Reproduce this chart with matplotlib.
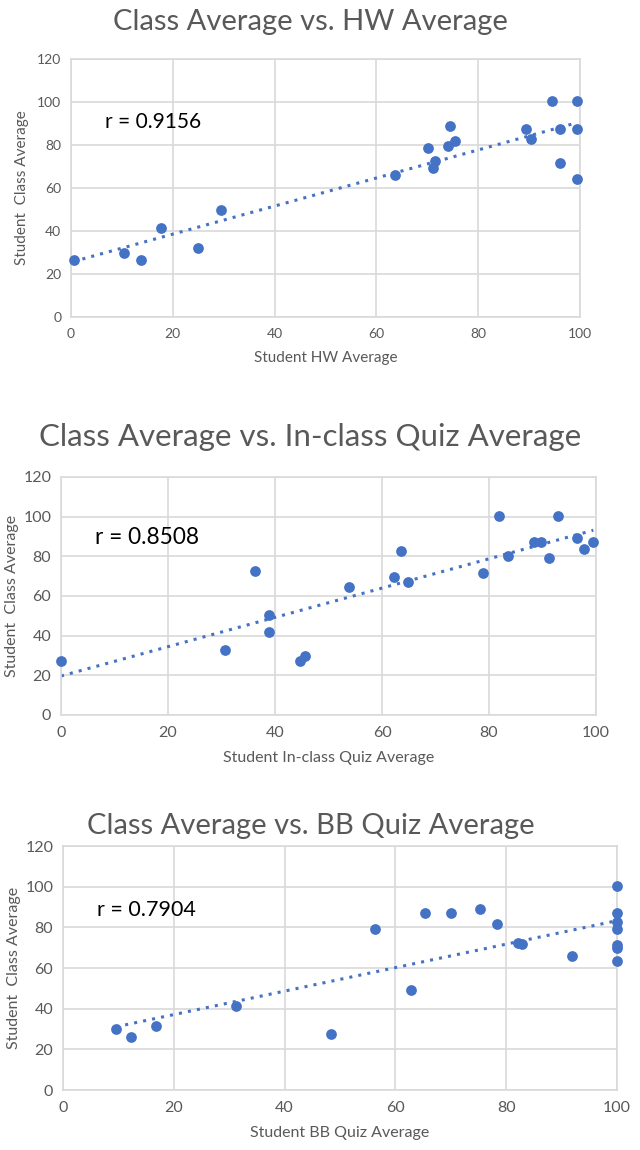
import numpy as np
import matplotlib.pyplot as plt

plt.rcParams['font.family'] = ['Lato', 'DejaVu Sans']

# panel 1: HW average
hw_x = [0.5, 10.5, 13.7, 17.7, 24.9, 29.5, 63.6, 70.2, 71.6, 71.2, 74.1,
        74.5, 75.4, 89.3, 90.3, 94.5, 99.4, 96.1, 99.4, 96.1, 99.4]
hw_y = [26.7, 29.8, 26.7, 41.3, 32.0, 49.8, 66.2, 78.7, 72.6, 69.4, 79.4,
        88.8, 81.9, 87.3, 82.6, 100.3, 100.3, 87.3, 87.3, 71.8, 64.0]

# panel 2: in-class quiz average
quiz_x = [0.0, 30.6, 36.3, 38.8, 38.8, 44.6, 45.6, 53.9, 62.2, 63.5, 64.9,
          78.8, 81.8, 83.5, 88.4, 89.8, 92.9, 91.2, 96.4, 97.8, 99.5]
quiz_y = [27.1, 32.8, 72.6, 50.3, 42.1, 27.1, 30.0, 64.3, 69.8, 82.8, 67.0,
          71.7, 100.2, 80.0, 87.4, 87.4, 100.2, 79.1, 89.0, 83.7, 87.2]

# panel 3: BB quiz average
bb_x = [9.6, 12.3, 16.7, 31.2, 48.3, 56.4, 62.8, 65.3, 70.1, 75.2, 78.4,
        82.2, 82.8, 91.8, 100, 100, 100, 100, 100, 100, 100]
bb_y = [29.8, 26.2, 31.5, 41.3, 27.4, 79.0, 49.2, 87.0, 87.0, 88.9, 81.7,
        72.5, 72.0, 66.1, 100.2, 87.0, 82.6, 79.0, 71.3, 69.7, 63.3]

titles = ['Class Average vs. HW Average',
          'Class Average vs. In-class Quiz Average',
          'Class Average vs. BB Quiz Average']
xlabels = ['Student HW Average', 'Student In-class Quiz Average',
           'Student BB Quiz Average']
r_labels = ['r = 0.9156', 'r = 0.8508', 'r = 0.7904']

W, H = 640, 1150
blue = '#4472C4'
gray = '#595959'
grid = '#D9D9D9'

# axes boxes in pixels: left, right, top, bottom
boxes = [(71, 580, 59, 317), (61, 596, 477, 715), (63, 617, 846, 1090)]
title_y = [22, 437, 826]
title_fs = [21, 22.5, 21]
r_pos = [(105, 122), (95, 538), (97, 910)]
r_fs = [15, 16.3, 15.5]
tick_fs = [10, 11.5, 11.5]
label_fs = [11, 11.5, 11.5]
ypad = [6, 3, 3]

fig = plt.figure(figsize=(W / 100, H / 100), dpi=100)

data = [(hw_x, hw_y), (quiz_x, quiz_y), (bb_x, bb_y)]
for i, (xs, ys) in enumerate(data):
    l, r, t, b = boxes[i]
    ax = fig.add_axes([l / W, 1 - b / H, (r - l) / W, (b - t) / H])
    ax.set_xlim(0, 100)
    ax.set_ylim(0, 120)
    ax.set_xticks(range(0, 101, 20))
    ax.set_yticks(range(0, 121, 20))
    ax.grid(True, color=grid, linewidth=1.2)
    ax.set_axisbelow(True)
    for s in ax.spines.values():
        s.set_color(grid)
        s.set_linewidth(1.2)
    ax.tick_params(length=0, labelsize=tick_fs[i], labelcolor=gray, pad=8)
    ax.tick_params(axis='y', pad=7)

    ax.scatter(xs, ys, s=45, color=blue, zorder=3, clip_on=False)
    m, c = np.polyfit(xs, ys, 1)
    fx = np.array([min(xs), max(xs)])
    ax.plot(fx, m * fx + c, linestyle=(0, (1, 2)), color=blue, linewidth=2.2,
            zorder=2)

    ax.set_xlabel(xlabels[i], fontsize=label_fs[i], color=gray, labelpad=8)
    ax.set_ylabel('Student  Class Average', fontsize=label_fs[i], color=gray,
                  labelpad=ypad[i])
    fig.text(0.485, 1 - title_y[i] / H, titles[i], ha='center', va='center',
             fontsize=title_fs[i], color=gray)
    fig.text(r_pos[i][0] / W, 1 - r_pos[i][1] / H, r_labels[i], ha='left',
             va='center', fontsize=r_fs[i], color='black')

fig.savefig('out.png', dpi=100, facecolor='white')
